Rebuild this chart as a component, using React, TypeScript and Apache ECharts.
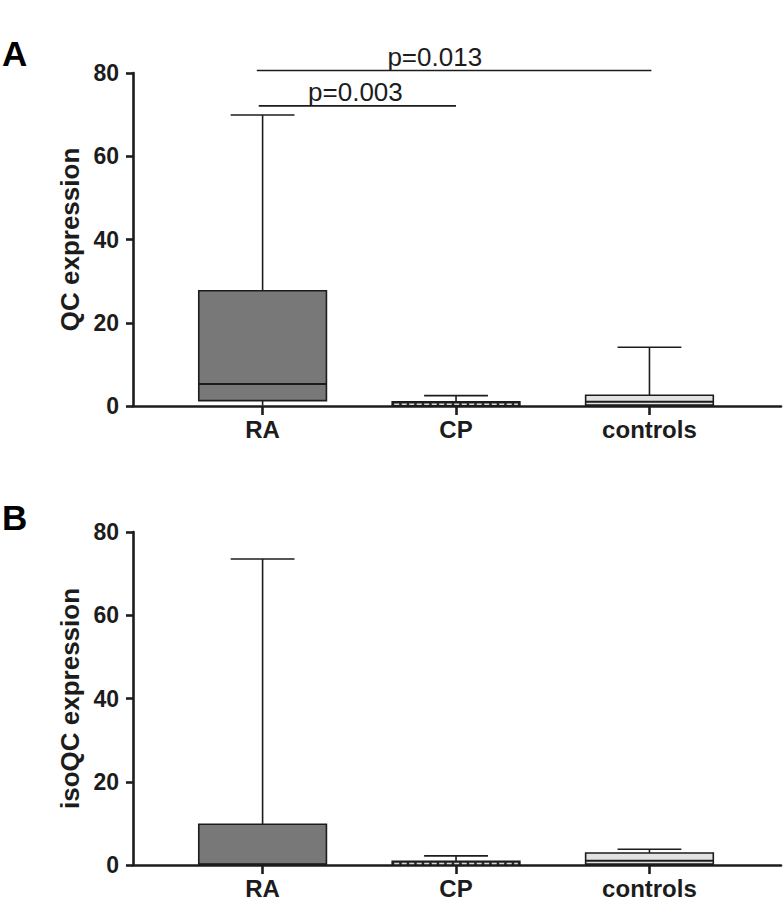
import React, { useEffect, useRef } from "react";
import * as echarts from "echarts";

const categories = ["RA", "CP", "controls"];
const yMin = 0;
const yMax = 80;
const yInterval = 20;
// [min, Q1, median, Q3, max]
const qcBoxes = [
  [0.1, 1.3, 5.3, 27.7, 69.9],
  [0.0, 0.1, 0.5, 1.0, 2.5],
  [0.0, 0.2, 1.0, 2.6, 14.1],
];
const isoqcBoxes = [
  [0.0, 0.1, 0.2, 9.8, 73.5],
  [0.0, 0.1, 0.4, 0.9, 2.2],
  [0.0, 0.2, 1.0, 2.9, 3.8],
];
const pLabels = ["p=0.003", "p=0.013"];
const pFrom = [-0.02, -0.03];
const pTo = [1.0, 2.01];
const pLevel = [72.1, 80.6];
const pLabelX = [0.48, 0.89];

const boxFill = ["#787878", "#2a2a2a", "#e2e2e2"];
const FONT = "'Liberation Sans', Arial, sans-serif";
const INK = "#1c1c1c";

function renderBox(params: any, api: any) {
  const idx = api.value(0);
  const v = [1, 2, 3, 4, 5].map((i) => api.value(i));
  const x = api.coord([idx, v[0]])[0];
  const yLo = api.coord([idx, v[0]])[1];
  const yQ1 = api.coord([idx, v[1]])[1];
  const yMed = api.coord([idx, v[2]])[1];
  const yQ3 = api.coord([idx, v[3]])[1];
  const yHi = api.coord([idx, v[4]])[1];
  const band = api.size([1, 0])[0];
  const bw = band * 0.66;
  const cw = band * 0.33;
  const lineStyle = { stroke: INK, lineWidth: 1.6 };
  const children: any[] = [
    { type: "line", shape: { x1: x, y1: yQ3, x2: x, y2: yHi }, style: lineStyle },
    { type: "line", shape: { x1: x - cw / 2, y1: yHi, x2: x + cw / 2, y2: yHi }, style: lineStyle },
    { type: "line", shape: { x1: x, y1: yQ1, x2: x, y2: yLo }, style: lineStyle },
    {
      type: "rect",
      shape: { x: x - bw / 2, y: yQ3, width: bw, height: Math.max(yQ1 - yQ3, 1) },
      style: { fill: boxFill[idx], stroke: INK, lineWidth: 1.6 },
    },
  ];
  if (idx === 1) {
    children.push({
      type: "line",
      shape: { x1: x - bw / 2 + 2, y1: (yQ3 + yQ1) / 2 + 0.5, x2: x + bw / 2 - 2, y2: (yQ3 + yQ1) / 2 + 0.5 },
      style: { stroke: "#d8d8d8", lineWidth: 1.5, lineDash: [5, 2.5] },
    });
  } else {
    children.push({
      type: "line",
      shape: { x1: x - bw / 2, y1: yMed, x2: x + bw / 2, y2: yMed },
      style: { stroke: INK, lineWidth: 2 },
    });
  }
  return { type: "group", children };
}

function renderBracket(params: any, api: any) {
  const a = api.coord([api.value(0), api.value(2)]);
  const b = api.coord([api.value(1), api.value(2)]);
  const t = api.coord([api.value(3), api.value(2)]);
  const label = pLabels[api.value(4)];
  return {
    type: "group",
    children: [
      { type: "line", shape: { x1: a[0], y1: a[1], x2: b[0], y2: b[1] }, style: { stroke: INK, lineWidth: 1.6 } },
      {
        type: "text",
        style: {
          text: label,
          x: t[0],
          y: t[1] - 1,
          align: "center",
          verticalAlign: "bottom",
          font: `26px ${FONT}`,
          fill: INK,
        },
      },
    ],
  };
}

function makeAxes(gridIndex: number, name: string) {
  const xAxis = {
    type: "value",
    gridIndex,
    min: -0.67,
    max: 2.68,
    splitLine: { show: false },
    axisLine: { show: true, onZero: false, lineStyle: { color: INK, width: 2.6 } },
    axisTick: { show: true, customValues: [0, 1, 2], length: 9, lineStyle: { color: INK, width: 2.6 } },
    axisLabel: {
      show: true,
      customValues: [0, 1, 2],
      formatter: (v: number) => categories[Math.round(v)],
      margin: 11,
      color: INK,
      fontFamily: FONT,
      fontWeight: "bold",
      fontSize: 24,
    },
  };
  const yAxis = {
    type: "value",
    gridIndex,
    min: yMin,
    max: yMax,
    interval: yInterval,
    name,
    nameLocation: "middle",
    nameGap: 50,
    nameTextStyle: { color: INK, fontFamily: FONT, fontWeight: "bold", fontSize: 26 },
    splitLine: { show: false },
    axisLine: { show: true, onZero: false, lineStyle: { color: INK, width: 2.6 } },
    axisTick: { show: true, length: 7, lineStyle: { color: INK, width: 2.6 } },
    axisLabel: { margin: 14, color: INK, fontFamily: FONT, fontWeight: "bold", fontSize: 23 },
  };
  return { xAxis, yAxis };
}

export default function App() {
  const ref = useRef<HTMLDivElement>(null);
  useEffect(() => {
    if (!ref.current) return;
    const chart = echarts.init(ref.current, null, { renderer: "svg" });
    const a = makeAxes(0, "QC expression");
    const b = makeAxes(1, "isoQC expression");
    const toData = (boxes: number[][]) => boxes.map((bx, i) => [i, ...bx]);
    const bracketData = pLabels.map((_, i) => [pFrom[i], pTo[i], pLevel[i], pLabelX[i], i]);
    chart.setOption({
      animation: false,
      backgroundColor: "#ffffff",
      grid: [
        { left: 133, top: 73, width: 648, height: 333 },
        { left: 133, top: 532, width: 648, height: 334 },
      ],
      xAxis: [a.xAxis, b.xAxis],
      yAxis: [a.yAxis, b.yAxis],
      graphic: [
        { type: "text", left: 2, top: 36, style: { text: "A", font: `bold 35px ${FONT}`, fill: "#000" } },
        { type: "text", left: 2, top: 500, style: { text: "B", font: `bold 35px ${FONT}`, fill: "#000" } },
      ],
      series: [
        {
          type: "custom",
          xAxisIndex: 0,
          yAxisIndex: 0,
          renderItem: renderBox,
          encode: { x: 0, y: [1, 2, 3, 4, 5] },
          data: toData(qcBoxes),
          clip: false,
          z: 3,
        },
        {
          type: "custom",
          xAxisIndex: 1,
          yAxisIndex: 1,
          renderItem: renderBox,
          encode: { x: 0, y: [1, 2, 3, 4, 5] },
          data: toData(isoqcBoxes),
          clip: false,
          z: 3,
        },
        {
          type: "custom",
          xAxisIndex: 0,
          yAxisIndex: 0,
          renderItem: renderBracket,
          encode: { x: [0, 1, 3], y: 2 },
          data: bracketData,
          clip: false,
          z: 3,
        },
      ],
    });
    return () => chart.dispose();
  }, []);
  return (
    <div
      ref={ref}
      style={{ position: "absolute", left: 0, top: 0, width: 783, height: 900, background: "#fff" }}
    />
  );
}
